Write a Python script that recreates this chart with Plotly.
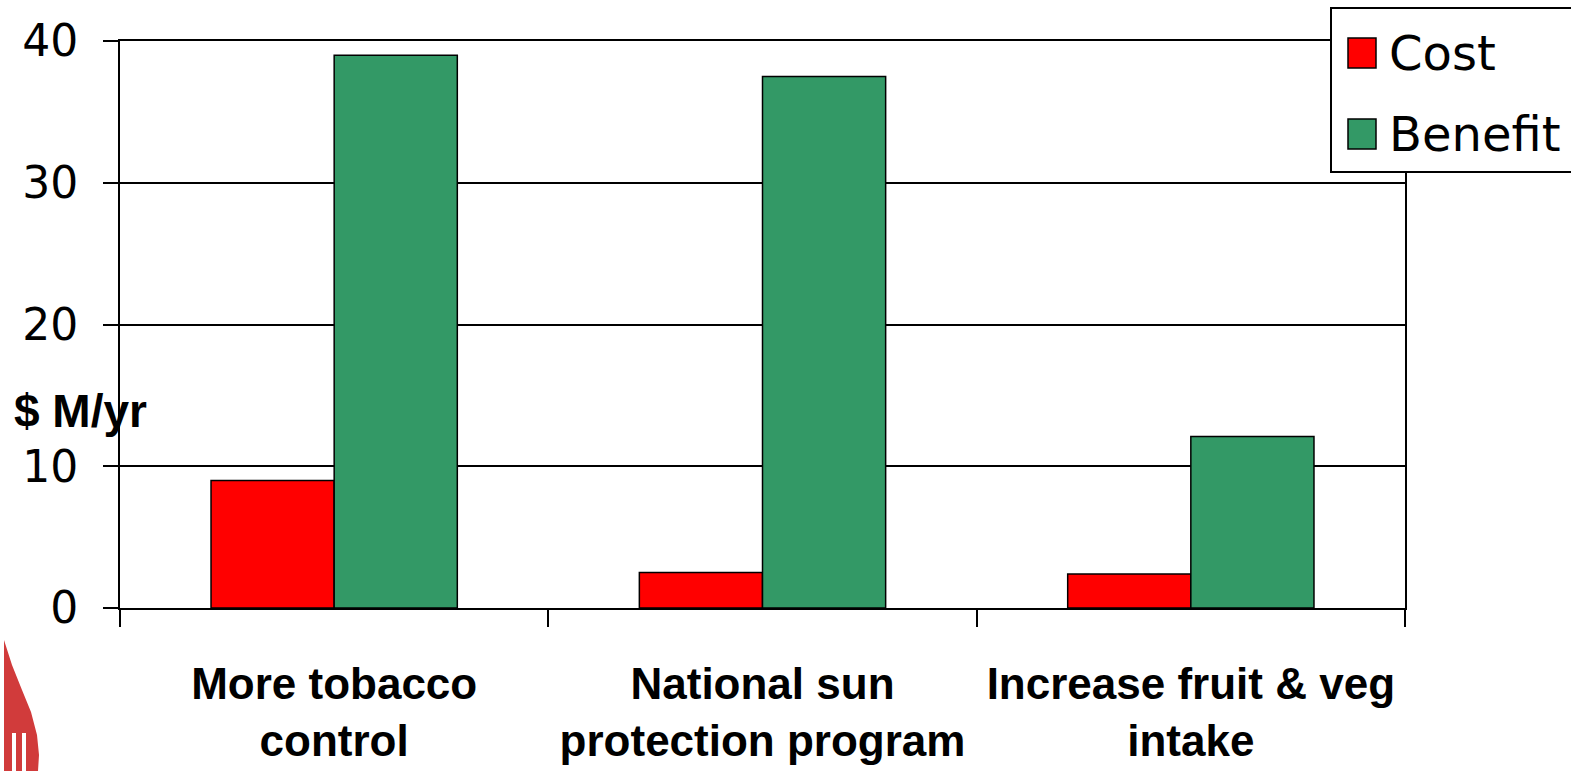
import plotly.graph_objects as go

# Cost vs. benefit of cancer prevention programs ($ million per year)
categories = ["More tobacco<br>control", "National sun<br>protection program", "Increase fruit & veg<br>intake"]
cost = [9, 2.5, 2.4]
benefit = [39, 37.5, 12.1]
series_names = ["Cost", "Benefit"]
series_colors = ["#FF0000", "#339966"]
y_ticks = [0, 10, 20, 30, 40]

W, H = 1571, 771
L, R, T, B = 120, 166, 41, 163
PW, PH = W - L - R, H - T - B


def px(x):
    return (x - L) / PW


def py(y):
    return (H - B - y) / PH


fig = go.Figure()
for name, vals, col in zip(series_names, [cost, benefit], series_colors):
    fig.add_trace(go.Bar(
        x=categories, y=vals, name=name,
        marker=dict(color=col, line=dict(color="black", width=1.5)),
        showlegend=False,
    ))

bold_family = "Liberation Sans Narrow, Arial Narrow, Liberation Sans, Arial"

shapes = []
annotations = []

# legend box with swatches
shapes.append(dict(type="rect", xref="paper", yref="paper",
                   x0=px(1331), x1=px(1580), y0=py(172), y1=py(8),
                   line=dict(color="black", width=2), fillcolor="white", layer="above"))
for i, (name, col) in enumerate(zip(series_names, series_colors)):
    cy = 53 + i * 81
    shapes.append(dict(type="rect", xref="paper", yref="paper",
                       x0=px(1348), x1=px(1376), y0=py(cy + 15), y1=py(cy - 15),
                       line=dict(color="black", width=1.5), fillcolor=col, layer="above"))
    annotations.append(dict(text=name, xref="paper", yref="paper",
                            x=px(1387), y=py(cy), xanchor="left", yanchor="middle",
                            showarrow=False, font=dict(family="DejaVu Sans, Verdana", size=48, color="black")))

# axis title
annotations.append(dict(text="<b>$ M/yr</b>", xref="paper", yref="paper",
                        x=px(12), y=py(411), xanchor="left", yanchor="middle",
                        showarrow=False, font=dict(family=bold_family, size=46, color="black")))

# corner emblem
def path(points):
    return "M " + " L ".join(f"{px(x)},{py(y)}" for x, y in points) + " Z"

emblem = [(4, 640), (12, 665), (22, 690), (31, 712), (37, 735), (39, 755), (38, 771), (4, 771)]
shapes.append(dict(type="path", xref="paper", yref="paper", path=path(emblem),
                   fillcolor="#D13B3B", line=dict(width=0), layer="above"))
for x0 in (12, 22):
    shapes.append(dict(type="rect", xref="paper", yref="paper",
                       x0=px(x0), x1=px(x0 + 4), y0=py(771), y1=py(733),
                       fillcolor="white", line=dict(width=0), layer="above"))

fig.update_layout(
    width=W, height=H,
    margin=dict(l=L, r=R, t=T, b=B),
    paper_bgcolor="white", plot_bgcolor="white",
    barmode="group", bargap=0.425, bargroupgap=0,
    shapes=shapes, annotations=annotations,
    showlegend=False,
)
fig.update_xaxes(
    automargin=False, tickangle=0,
    showline=True, linecolor="black", linewidth=2, mirror=True,
    ticks="outside", tickson="boundaries", ticklen=17, tickwidth=2, tickcolor="black",
    tickfont=dict(family=bold_family, size=44, color="black", weight="bold"),
    ticklabelstandoff=36,
    showgrid=False,
)
fig.update_yaxes(
    automargin=False,
    range=[0, 40], tickvals=y_ticks,
    showline=True, linecolor="black", linewidth=2, mirror=True,
    ticks="outside", ticklen=15, tickwidth=2, tickcolor="black",
    tickfont=dict(family="DejaVu Sans, Verdana", size=44, color="black"),
    ticklabelstandoff=16,
    showgrid=True, gridcolor="black", gridwidth=2,
    zeroline=False,
)

fig.write_html("out.html")
